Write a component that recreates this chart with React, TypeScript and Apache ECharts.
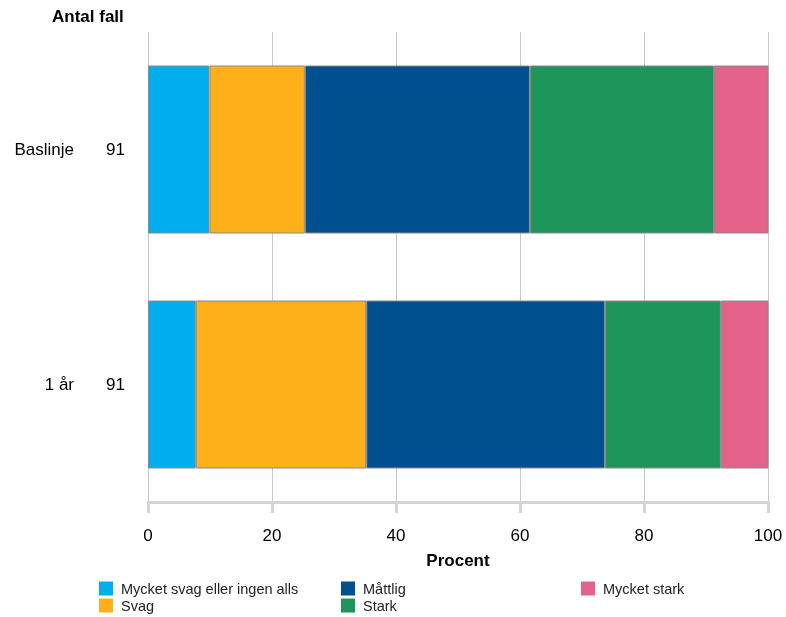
import React, { useEffect, useRef } from "react";
import * as echarts from "echarts";

const categories = ["Baslinje", "1 år"];
const counts = [91, 91];
const seriesNames = ["Mycket svag eller ingen alls", "Svag", "Måttlig", "Stark", "Mycket stark"];
const mycketSvag = [9.9, 7.7];
const svag = [15.4, 27.5];
const mattlig = [36.3, 38.5];
const stark = [29.7, 18.7];
const mycketStark = [8.8, 7.7];
const xTicks = [0, 20, 40, 60, 80, 100];
const colors = ["#03AEEF", "#FDB01A", "#004F8F", "#1E955B", "#E4638A"];

export default function App() {
  const ref = useRef<HTMLDivElement>(null);
  useEffect(() => {
    if (!ref.current) return;
    const chart = echarts.init(ref.current, undefined, { renderer: "svg" });
    const values = [mycketSvag, svag, mattlig, stark, mycketStark];
    const font = "Liberation Sans, Arial, sans-serif";
    const legendBase = {
      orient: "vertical" as const,
      itemWidth: 14,
      itemHeight: 14,
      itemGap: 2,
      icon: "rect",
      itemStyle: { borderWidth: 0 },
      textStyle: { fontFamily: font, fontSize: 14.5, color: "#222", padding: [0, 0, 0, 3] },
      padding: 0,
    };
    chart.setOption({
      animation: false,
      textStyle: { fontFamily: font },
      color: colors,
      grid: { left: 148, right: 18, top: 32, bottom: 115 },
      graphic: [
        {
          type: "text",
          left: 52,
          top: 8,
          style: { text: "Antal fall", font: "bold 17px Liberation Sans, Arial, sans-serif", fill: "#000" },
        },
      ],
      legend: [
        { ...legendBase, left: 99, top: 581, data: [seriesNames[0], seriesNames[1]] },
        { ...legendBase, left: 341, top: 581, data: [seriesNames[2], seriesNames[3]] },
        { ...legendBase, left: 581, top: 581, data: [seriesNames[4]] },
      ],
      xAxis: {
        type: "value",
        min: 0,
        max: 100,
        interval: 20,
        name: "Procent",
        nameLocation: "middle",
        nameGap: 50,
        nameTextStyle: { fontFamily: font, fontSize: 17, fontWeight: "bold", color: "#000" },
        axisLine: { show: true, lineStyle: { color: "#d4d4d4", width: 3 } },
        axisTick: { show: true, length: 11, lineStyle: { color: "#d4d4d4", width: 3 } },
        splitLine: { show: true, lineStyle: { color: "#c8c8c8", width: 1 } },
        axisLabel: {
          fontFamily: font,
          fontSize: 17,
          color: "#000",
          margin: 25,
          formatter: (v: number) => (xTicks.includes(v) ? String(v) : ""),
        },
      },
      yAxis: {
        type: "category",
        inverse: true,
        data: categories,
        axisLine: { show: false },
        axisTick: { show: false },
        splitLine: { show: false },
        axisLabel: {
          margin: 23,
          formatter: (v: string, i: number) => `{a|${v}}{b|${counts[i]}}`,
          rich: {
            a: { fontFamily: font, fontSize: 17, color: "#000" },
            b: { fontFamily: font, fontSize: 17, color: "#000", width: 51, align: "right" },
          },
        },
      },
      series: seriesNames.map((name, k) => ({
        name,
        type: "bar",
        stack: "total",
        barWidth: 168,
        data: values[k],
        itemStyle: { color: colors[k], borderColor: "#8a8a8a", borderWidth: 1 },
      })),
    });
    return () => chart.dispose();
  }, []);
  return <div ref={ref} style={{ position: "fixed", left: 0, top: 0, width: 786, height: 617 }} />;
}
